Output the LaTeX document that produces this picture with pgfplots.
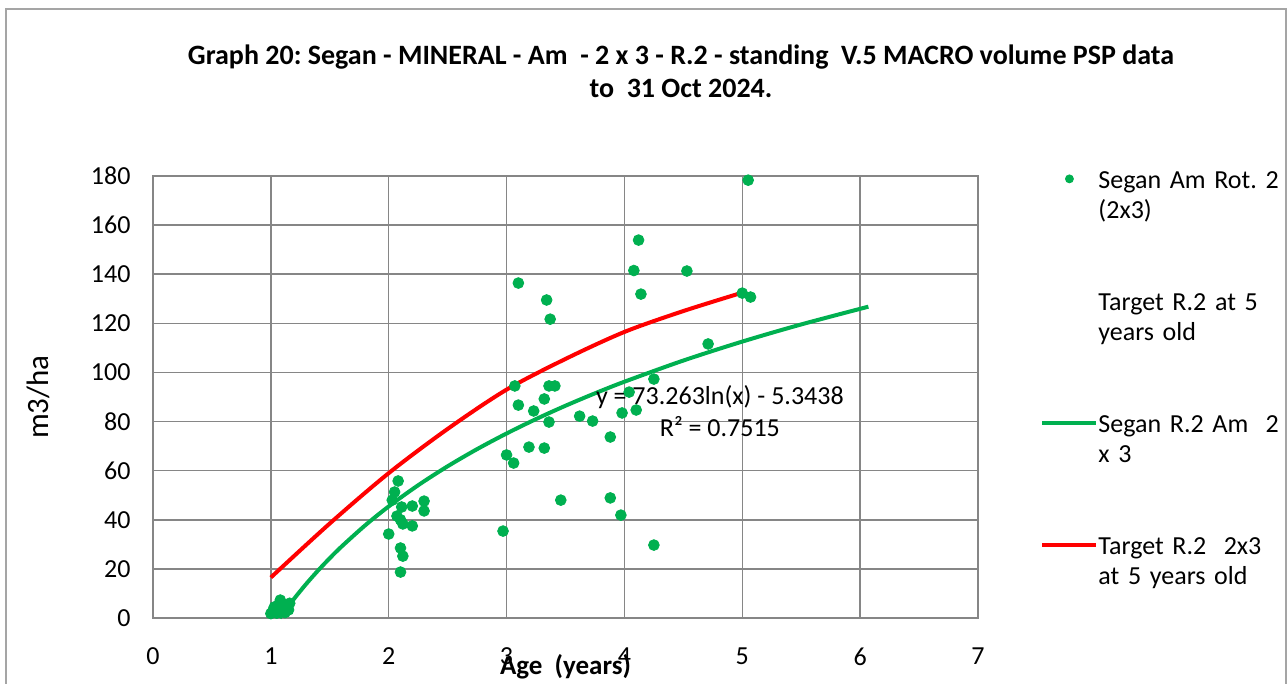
\documentclass[border=0pt]{standalone}
\usepackage{pgfplots}
\pgfplotsset{compat=1.18}
\usepackage{fontspec}
\setmainfont{Carlito}
\frenchspacing
\definecolor{xlgreen}{RGB}{0,176,80}
\definecolor{xlred}{RGB}{255,0,0}
\definecolor{gridgray}{RGB}{134,134,134}
\definecolor{framegray}{RGB}{165,165,165}
\pgfplotsset{
  linelegend/.style={legend image code/.code={\draw[##1] (0pt,10pt) -- (27pt,10pt);}},
  dotlegend/.style={legend image code/.code={\draw[##1, mark size=2pt] plot coordinates {(13.5pt,10pt)};}},
}
\begin{document}
\begin{tikzpicture}
\begin{axis}[
  at={(0,0)}, anchor=south west,
  scale only axis, width=412.5pt, height=221pt,
  xmin=0, xmax=7, ymin=0, ymax=180,
  xtick={0,1,...,7}, ytick={0,20,...,180},
  grid=major, major grid style={gridgray, line width=0.75pt},
  axis line style={gridgray, line width=0.75pt},
  major tick length=0pt,
  /pgf/number format/assume math mode=true,
  tick label style={font=\fontsize{13}{15}\selectfont},
  xticklabel style={yshift=-11.5pt},
  yticklabel style={xshift=-7.7pt},
  xlabel={Age\ \ (years)},
  xlabel style={at={(axis description cs:0.5,-0.111)}, anchor=center, font=\bfseries\fontsize{13.5}{15}\selectfont},
  ylabel={m3/ha},
  ylabel style={at={(axis description cs:-0.1394,0.5)}, anchor=center, font=\fontsize{15.5}{17}\selectfont},
  clip=false,
  legend style={draw=none, fill=none, inner sep=0pt,
    at={(1.0752,1.017)}, anchor=north west,
    font=\fontsize{13}{15}\selectfont,
    nodes={inner sep=0pt, align=left, text width=120pt, text height=10pt, text depth=20pt},
    row sep=31pt,
    /tikz/every even column/.append style={column sep=5pt}},
  linelegend,
]
\addplot[only marks, mark=*, mark size=2.7pt, color=xlgreen, dotlegend]
coordinates {
(1.02,3.3) (1.08,7.3) (1.05,2.0) (1.15,3.3) (1.16,6.0) (1.10,5.3) (1.00,1.8) (1.06,5.0) (1.12,2.2) (1.03,4.5)
(2.08,55.8) (2.05,51.3) (2.03,48.0) (2.11,45.2) (2.20,45.6) (2.30,47.6) (2.30,43.6) (2.07,41.5)
(2.10,40.0) (2.12,38.3) (2.20,37.5) (2.00,34.2) (2.10,28.5) (2.12,25.2) (2.10,18.7)
(2.97,35.4) (3.00,66.4) (3.06,63.1) (3.07,94.5) (3.10,86.7) (3.10,136.4) (3.19,69.6) (3.23,84.3)
(3.32,69.2) (3.32,89.2) (3.34,129.5) (3.36,79.8) (3.36,94.5) (3.37,121.7) (3.41,94.5) (3.46,48.0)
(3.62,82.2) (3.73,80.2) (3.88,73.7) (3.88,48.9) (3.97,41.9) (3.98,83.5) (4.04,92.0) (4.08,141.5)
(4.10,84.7) (4.12,153.9) (4.14,131.9) (4.25,97.3) (4.25,29.7) (4.53,141.3) (4.71,111.6)
(5.00,132.3) (5.05,178.3) (5.07,130.7)
};
\addlegendentry{Segan Am Rot. 2\\(2x3)}
\addlegendimage{empty legend}
\addlegendentry{Target R.2 at 5\\years old}
\addplot[color=xlgreen, line width=2pt, smooth] coordinates {
(1.075,0) (1.1,1.64) (1.2,8.01) (1.3,13.88) (1.4,19.31) (1.5,24.36) (1.6,29.09) (1.8,37.72)
(2.0,45.44) (2.25,54.07) (2.5,61.79) (2.75,68.77) (3.0,75.14) (3.25,81.01) (3.5,86.44)
(3.75,91.49) (4.0,96.22) (4.5,104.85) (5.0,112.57) (5.5,119.55) (6.07,126.78)
};
\addlegendentry{Segan R.2 Am\ \ 2\\x 3}
\addplot[color=xlred, line width=2pt, smooth] coordinates {
(1.0,16.5) (1.5,38.5) (2.0,59.0) (2.5,77.0) (3.0,93.0) (3.5,105.5) (4.0,116.5) (4.5,125.0) (5.0,132.5)
};
\addlegendentry{Target R.2\ \ 2x3\\at 5 years old}
\node[font=\fontsize{13}{15}\selectfont] at (axis cs:4.81,90) {y = 73.263ln(x) - 5.3438};
\node[font=\fontsize{13}{15}\selectfont] at (axis cs:4.81,77.8) {R² = 0.7515};
\end{axis}
\node[font=\bfseries\fontsize{14}{16.5}\selectfont, align=center] at (264pt,273.25pt)
  {Graph 20: Segan - MINERAL - Am\ \ - 2 x 3 - R.2 - standing\ \ V.5 MACRO volume PSP data\\to\ \ 31 Oct 2024.};
\draw[framegray, line width=0.75pt] (-73.5pt,-40pt) -- (-73.5pt,304.5pt) -- (566.5pt,304.5pt) -- (566.5pt,-40pt);
\pgfresetboundingbox
\path[use as bounding box] (-76.5pt,-33pt) rectangle (567.5pt,309pt);
\end{tikzpicture}
\end{document}
